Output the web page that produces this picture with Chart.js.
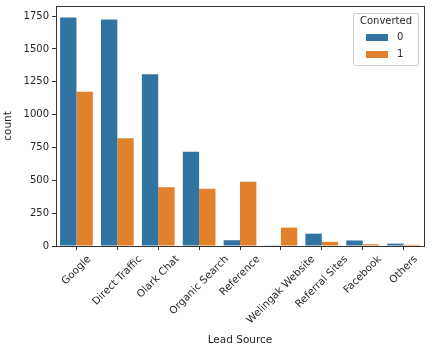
<!DOCTYPE html>
<html>
<head>
<meta charset="utf-8">
<script src="https://cdn.jsdelivr.net/npm/chart.js@4/dist/chart.umd.min.js"></script>
<style>
html,body{margin:0;padding:0;background:#fff;}
#wrap{position:relative;width:432px;height:351px;}
</style>
</head>
<body>
<div id="wrap"><canvas id="c" width="432" height="351"></canvas></div>
<script>
const categories = ["Google","Direct Traffic","Olark Chat","Organic Search","Reference","Welingak Website","Referral Sites","Facebook","Others"];
const converted0 = [1740, 1725, 1307, 718, 44, 2, 94, 42, 18];
const converted1 = [1175, 820, 448, 436, 490, 140, 31, 13, 9];
const seriesNames = ["0","1"];
const yTicks = [0,250,500,750,1000,1250,1500,1750];
const yMax = 1827;
const colors = ["#3274a1","#e1812c"];
const FONT = "'DejaVu Sans', sans-serif";
const TEXT = "#262626";

const frameAndLegend = {
  id: 'frameAndLegend',
  afterDraw(chart) {
    const ctx = chart.ctx, a = chart.chartArea;
    ctx.save();
    ctx.strokeStyle = '#333';
    ctx.lineWidth = 1;
    ctx.strokeRect(Math.round(a.left)+0.5, Math.round(a.top)+0.5, Math.round(a.right-a.left), Math.round(a.bottom-a.top));
    // rotated x tick labels, centred on the tick (matplotlib style)
    const xs = chart.scales.x;
    ctx.font = "10.3px " + FONT;
    ctx.fillStyle = TEXT;
    ctx.textAlign = 'center';
    ctx.textBaseline = 'middle';
    const top = a.bottom + 8;
    const h = 10;
    categories.forEach((lab, i) => {
      const w = ctx.measureText(lab).width;
      const cx = xs.getPixelForValue(i);
      const cy = top + (w + h) * Math.SQRT1_2 / 2;
      ctx.save();
      ctx.translate(cx, cy);
      ctx.rotate(-Math.PI / 4);
      ctx.fillText(lab, 0, 0);
      ctx.restore();
    });
    // legend
    const bx = 353.5, by = 13.5, bw = 65, bh = 52;
    ctx.fillStyle = 'rgba(255,255,255,0.85)';
    ctx.strokeStyle = '#cccccc';
    ctx.beginPath();
    if (ctx.roundRect) ctx.roundRect(bx, by, bw, bh, 2); else ctx.rect(bx, by, bw, bh);
    ctx.fill(); ctx.stroke();
    ctx.fillStyle = TEXT;
    ctx.font = "10px " + FONT;
    ctx.textAlign = 'center';
    ctx.textBaseline = 'middle';
    ctx.fillText("Converted", bx + bw/2, 21.5);
    const rows = [37.5, 54.5];
    seriesNames.forEach((n, i) => {
      ctx.fillStyle = colors[i];
      ctx.fillRect(366, rows[i]-3.5, 22, 7);
      ctx.fillStyle = TEXT;
      ctx.textAlign = 'left';
      ctx.fillText(n, 397, rows[i]);
    });
    ctx.restore();
  }
};

new Chart(document.getElementById('c'), {
  type: 'bar',
  data: {
    labels: categories,
    datasets: [
      { label: seriesNames[0], data: converted0, backgroundColor: colors[0], borderWidth: 0, categoryPercentage: 0.8, barPercentage: 1.0 },
      { label: seriesNames[1], data: converted1, backgroundColor: colors[1], borderWidth: 0, categoryPercentage: 0.8, barPercentage: 1.0 }
    ]
  },
  options: {
    responsive: false,
    animation: false,
    devicePixelRatio: 1,
    layout: { padding: { top: 6, right: 8, left: 2, bottom: 0 } },
    plugins: { legend: { display: false }, tooltip: { enabled: false } },
    scales: {
      x: {
        grid: { display: true, drawOnChartArea: false, drawTicks: true, tickLength: 4, color: '#333', offset: false },
        border: { display: true, color: '#333' },
        ticks: { color: 'rgba(0,0,0,0)', font: { family: FONT, size: 10 }, maxRotation: 45, minRotation: 45, padding: 1 },
        title: { display: true, text: 'Lead Source', color: TEXT, font: { family: FONT, size: 10.5 }, padding: { top: 0, bottom: 4 } },
        afterFit(s) { s.height = 105; s.paddingLeft = 0; s.paddingRight = 0; }
      },
      y: {
        min: 0, max: yMax,
        grid: { display: true, drawOnChartArea: false, drawTicks: true, tickLength: 4, color: '#333' },
        border: { display: true, color: '#333' },
        ticks: { color: TEXT, font: { family: FONT, size: 10 }, padding: 3, callback: v => String(v) },
        afterBuildTicks(s) { s.ticks = yTicks.map(v => ({ value: v })); },
        title: { display: true, text: 'count', color: TEXT, font: { family: FONT, size: 10.5 }, padding: { top: 0, bottom: 3 } },
        afterFit(s) { s.width = 54; s.paddingTop = 0; s.paddingBottom = 0; }
      }
    }
  },
  plugins: [frameAndLegend]
});
</script>
</body>
</html>
